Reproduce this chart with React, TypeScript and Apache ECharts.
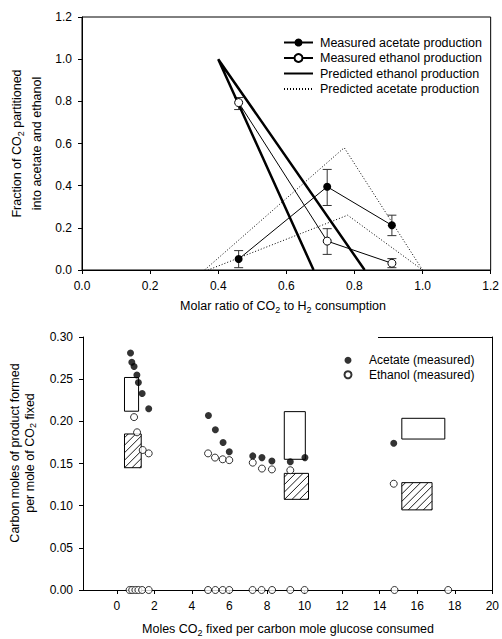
import React, { useEffect, useRef } from "react";
import * as echarts from "echarts";

const FONT = "'Liberation Sans', Arial, Helvetica, sans-serif";

// ---------- Top panel data ----------
const ratioX = [0.46, 0.72, 0.91];
const acetateMeasured = [0.052, 0.395, 0.212];
const acetateLow = [0.011, 0.306, 0.163];
const acetateHigh = [0.092, 0.477, 0.26];
const ethanolMeasured = [0.794, 0.137, 0.032];
const ethanolLow = [0.761, 0.074, 0.011];
const ethanolHigh = [0.818, 0.196, 0.054];
const predEthanolX = [0.68, 0.4, 0.83];
const predEthanolY = [0, 1.0, 0];
const predAcetateX = [0.36, 0.77, 1.0, 0.78, 0.37];
const predAcetateY = [0, 0.58, 0, 0.26, 0];

// ---------- Bottom panel data ----------
const acetateX = [0.73, 0.8, 0.92, 1.07, 1.15, 1.35, 1.7, 4.88, 5.25, 5.66, 5.99, 7.24, 7.73, 8.26, 9.24, 10.02, 14.75];
const acetateY = [0.281, 0.27, 0.265, 0.255, 0.246, 0.233, 0.215, 0.207, 0.19, 0.175, 0.164, 0.159, 0.157, 0.153, 0.152, 0.157, 0.174];
const ethanolX = [0.92, 1.08, 1.38, 1.7, 4.86, 5.23, 5.64, 5.99, 7.24, 7.73, 8.26, 9.24, 14.75];
const ethanolY = [0.205, 0.187, 0.166, 0.162, 0.162, 0.157, 0.155, 0.154, 0.151, 0.144, 0.143, 0.142, 0.126];
const zeroX = [0.68, 0.82, 0.99, 1.15, 1.35, 1.7, 4.86, 5.25, 5.64, 5.99, 7.23, 7.71, 8.27, 9.24, 10.0, 14.79, 17.65];
const zeroY = [0, 0, 0, 0, 0, 0, 0, 0, 0, 0, 0, 0, 0, 0, 0, 0, 0];
const openRectX0 = [0.41, 8.92, 15.18];
const openRectX1 = [1.16, 10.04, 17.47];
const openRectY0 = [0.212, 0.155, 0.179];
const openRectY1 = [0.252, 0.2115, 0.2036];
const hatchRectX0 = [0.41, 8.92, 15.18];
const hatchRectX1 = [1.3, 10.21, 16.79];
const hatchRectY0 = [0.145, 0.1075, 0.095];
const hatchRectY1 = [0.185, 0.1383, 0.1273];
const bottomXTicks = [0, 2, 4, 6, 8, 10, 12, 14, 16, 18, 20];

const axisCommon = {
  type: "value" as const,
  axisLine: { show: true, onZero: false, lineStyle: { color: "#000", width: 1 } },
  axisTick: { show: true, inside: false, length: 4, lineStyle: { color: "#000" } },
  splitLine: { show: false },
  axisLabel: { color: "#000", fontSize: 12, margin: 10, fontFamily: FONT },
};

const subRich = {
  a: { fontSize: 12.5, lineHeight: 16, fontFamily: FONT, color: "#000" },
  s: { fontSize: 9, lineHeight: 8, verticalAlign: "bottom", fontFamily: FONT, color: "#000" },
};

function titleText(x: number, y: number, text: string, rotate: boolean) {
  return {
    type: "text",
    x,
    y,
    rotation: rotate ? Math.PI / 2 : 0,
    silent: true,
    style: {
      text,
      rich: subRich,
      fontSize: 12.5,
      fontFamily: FONT,
      fill: "#000",
      align: "center",
      verticalAlign: "middle",
    },
  };
}

export default function App() {
  const ref = useRef<HTMLDivElement>(null);

  useEffect(() => {
    document.body.style.margin = "0";
    if (!ref.current) return;
    const chart = echarts.init(ref.current, undefined, { renderer: "svg" });

    const errorBarRender = (params: any, api: any) => {
      const x = api.value(0);
      const lo = api.coord([x, api.value(1)]);
      const hi = api.coord([x, api.value(2)]);
      const cap = 4.5;
      const st = { stroke: "#333", lineWidth: 1 };
      return {
        type: "group",
        children: [
          { type: "line", shape: { x1: lo[0], y1: lo[1], x2: hi[0], y2: hi[1] }, style: st },
          { type: "line", shape: { x1: lo[0] - cap, y1: lo[1], x2: lo[0] + cap, y2: lo[1] }, style: st },
          { type: "line", shape: { x1: hi[0] - cap, y1: hi[1], x2: hi[0] + cap, y2: hi[1] }, style: st },
        ],
      };
    };

    const openRectRender = (params: any, api: any) => {
      const a = api.coord([api.value(0), api.value(3)]);
      const b = api.coord([api.value(1), api.value(2)]);
      return {
        type: "rect",
        shape: { x: a[0], y: a[1], width: b[0] - a[0], height: b[1] - a[1] },
        style: { fill: "#fff", stroke: "#000", lineWidth: 1 },
      };
    };

    const hatchRectRender = (params: any, api: any) => {
      const a = api.coord([api.value(0), api.value(3)]);
      const b = api.coord([api.value(1), api.value(2)]);
      const x0 = a[0], x1 = b[0], yT = a[1], yB = b[1];
      const children: any[] = [
        {
          type: "rect",
          shape: { x: x0, y: yT, width: x1 - x0, height: yB - yT },
          style: { fill: "#fff", stroke: "#000", lineWidth: 1 },
        },
      ];
      const step = 7.5;
      for (let k = x0 + yT + step / 2; k < x1 + yB; k += step) {
        const xa = Math.max(x0, k - yB);
        const xb = Math.min(x1, k - yT);
        if (xb > xa) {
          children.push({
            type: "line",
            shape: { x1: xa, y1: k - xa, x2: xb, y2: k - xb },
            style: { stroke: "#000", lineWidth: 0.9 },
          });
        }
      }
      return { type: "group", children };
    };

    const option: any = {
      animation: false,
      textStyle: { fontFamily: FONT },
      grid: [
        { left: 82, top: 17, width: 411, height: 253, show: true, borderColor: "#000", borderWidth: 1, backgroundColor: "transparent" },
        { left: 83, top: 337, width: 410, height: 253 },
      ],
      xAxis: [
        {
          ...axisCommon,
          gridIndex: 0,
          min: 0,
          max: 1.2,
          interval: 0.2,
          axisLabel: { ...axisCommon.axisLabel, formatter: (v: number) => v.toFixed(1) },
        },
        {
          ...axisCommon,
          gridIndex: 1,
          min: -1.8,
          max: 20,
          axisTick: { ...axisCommon.axisTick, customValues: bottomXTicks },
          axisLabel: { ...axisCommon.axisLabel, customValues: bottomXTicks, formatter: (v: number) => String(Math.round(v)) },
        },
      ],
      yAxis: [
        {
          ...axisCommon,
          gridIndex: 0,
          min: 0,
          max: 1.2,
          interval: 0.2,
          axisLabel: { ...axisCommon.axisLabel, formatter: (v: number) => v.toFixed(1) },
        },
        {
          ...axisCommon,
          gridIndex: 1,
          min: 0,
          max: 0.3,
          interval: 0.05,
          axisLabel: { ...axisCommon.axisLabel, formatter: (v: number) => v.toFixed(2) },
        },
        {
          type: "value",
          gridIndex: 1,
          position: "right",
          min: 0,
          max: 0.3,
          axisLine: { show: true, onZero: false, lineStyle: { color: "#000", width: 1 } },
          axisTick: { show: false },
          axisLabel: { show: false },
          splitLine: { show: false },
        },
      ],
      legend: [
        {
          data: [
            { name: "Measured acetate production" },
            { name: "Measured ethanol production" },
            { name: "Predicted ethanol production", itemStyle: { opacity: 0 } },
            { name: "Predicted acetate production", itemStyle: { opacity: 0 } },
          ],
          orient: "vertical",
          left: 283,
          top: 35,
          padding: 0,
          itemWidth: 29,
          itemHeight: 10,
          itemGap: 0.5,
          selectedMode: false,
          textStyle: { fontSize: 12.5, lineHeight: 15, color: "#000", fontFamily: FONT, padding: [0, 0, 0, 2] },
        },
        {
          data: ["Acetate (measured)", "Ethanol (measured)"],
          orient: "vertical",
          left: 343.5,
          top: 353,
          padding: 0,
          itemWidth: 7,
          itemHeight: 7,
          itemGap: 0,
          selectedMode: false,
          textStyle: { fontSize: 12, lineHeight: 14.5, color: "#000", fontFamily: FONT, padding: [0, 0, 0, 12.5] },
        },
      ],
      graphic: [
        titleText(17, 143.5, "{a|Fraction of CO}{s|2}{a| partitioned}", true),
        titleText(37, 143.5, "{a|into acetate and ethanol}", true),
        titleText(283, 306, "{a|Molar ratio of CO}{s|2}{a| to H}{s|2}{a| consumption}", false),
        titleText(15, 453, "{a|Carbon moles of product formed}", true),
        titleText(29.5, 453, "{a|per mole of CO}{s|2}{a| fixed}", true),
        titleText(288, 629, "{a|Moles CO}{s|2}{a| fixed per carbon mole glucose consumed}", false),
        {
          type: "line",
          silent: true,
          shape: { x1: 378, y1: 337.5, x2: 493, y2: 337.5 },
          style: { stroke: "#000", lineWidth: 1 },
        },
      ],
      series: [
        {
          type: "custom",
          name: "acetateErr",
          xAxisIndex: 0,
          yAxisIndex: 0,
          z: 2,
          renderItem: errorBarRender,
          data: ratioX.map((x, i) => [x, acetateLow[i], acetateHigh[i]]),
        },
        {
          type: "custom",
          name: "ethanolErr",
          xAxisIndex: 0,
          yAxisIndex: 0,
          z: 2,
          renderItem: errorBarRender,
          data: ratioX.map((x, i) => [x, ethanolLow[i], ethanolHigh[i]]),
        },
        {
          type: "line",
          name: "Measured acetate production",
          xAxisIndex: 0,
          yAxisIndex: 0,
          z: 4,
          symbol: "circle",
          symbolSize: 8,
          itemStyle: { color: "#000" },
          lineStyle: { color: "#000", width: 1 },
          data: ratioX.map((x, i) => [x, acetateMeasured[i]]),
        },
        {
          type: "line",
          name: "Measured ethanol production",
          xAxisIndex: 0,
          yAxisIndex: 0,
          z: 4,
          symbol: "circle",
          symbolSize: 8,
          itemStyle: { color: "#fff", borderColor: "#000", borderWidth: 1 },
          lineStyle: { color: "#000", width: 1 },
          data: ratioX.map((x, i) => [x, ethanolMeasured[i]]),
        },
        {
          type: "line",
          name: "Predicted ethanol production",
          xAxisIndex: 0,
          yAxisIndex: 0,
          z: 3,
          symbol: "none",
          lineStyle: { color: "#000", width: 2.5 },
          itemStyle: { color: "#000" },
          data: predEthanolX.map((x, i) => [x, predEthanolY[i]]),
        },
        {
          type: "line",
          name: "Predicted acetate production",
          xAxisIndex: 0,
          yAxisIndex: 0,
          z: 3,
          symbol: "none",
          lineStyle: { color: "#000", width: 1, type: [1, 2] },
          itemStyle: { color: "#000" },
          data: predAcetateX.map((x, i) => [x, predAcetateY[i]]),
        },
        {
          type: "custom",
          name: "openRects",
          xAxisIndex: 1,
          yAxisIndex: 1,
          z: 1,
          renderItem: openRectRender,
          data: openRectX0.map((x, i) => [x, openRectX1[i], openRectY0[i], openRectY1[i]]),
        },
        {
          type: "custom",
          name: "hatchRects",
          xAxisIndex: 1,
          yAxisIndex: 1,
          z: 1,
          renderItem: hatchRectRender,
          data: hatchRectX0.map((x, i) => [x, hatchRectX1[i], hatchRectY0[i], hatchRectY1[i]]),
        },
        {
          type: "scatter",
          name: "Acetate (measured)",
          xAxisIndex: 1,
          yAxisIndex: 1,
          z: 4,
          symbol: "circle",
          symbolSize: 7,
          itemStyle: { color: "#000" },
          data: acetateX.map((x, i) => [x, acetateY[i]]),
        },
        {
          type: "scatter",
          name: "Ethanol (measured)",
          xAxisIndex: 1,
          yAxisIndex: 1,
          z: 4,
          symbol: "circle",
          symbolSize: 7,
          itemStyle: { color: "#fff", borderColor: "#000", borderWidth: 1 },
          data: ethanolX.map((x, i) => [x, ethanolY[i]]),
        },
        {
          type: "scatter",
          name: "Zero production",
          xAxisIndex: 1,
          yAxisIndex: 1,
          z: 4,
          symbol: "circle",
          symbolSize: 7,
          clip: false,
          itemStyle: { color: "#fff", borderColor: "#000", borderWidth: 1 },
          data: zeroX.map((x, i) => [x, zeroY[i]]),
        },
      ],
    };

    chart.setOption(option);
    return () => chart.dispose();
  }, []);

  return <div ref={ref} style={{ width: 502, height: 639 }} />;
}
